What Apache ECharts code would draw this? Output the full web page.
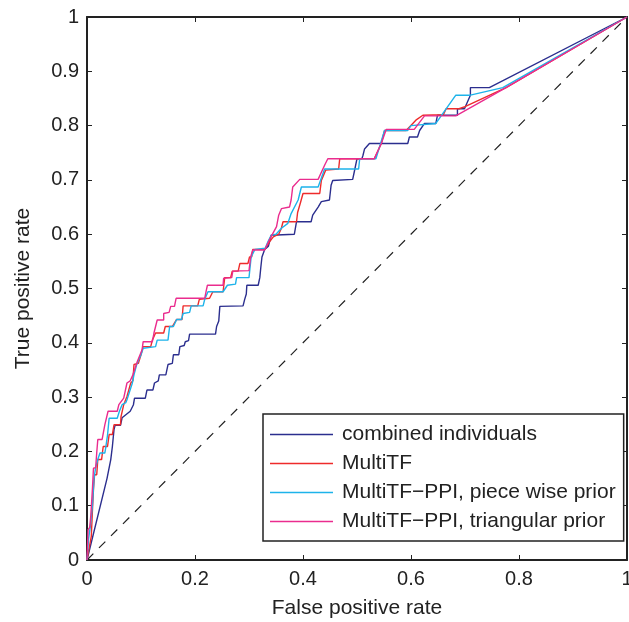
<!DOCTYPE html>
<html>
<head>
<meta charset="utf-8">
<script src="https://cdn.jsdelivr.net/npm/echarts@6/dist/echarts.min.js"></script>
<style>
  html, body { margin: 0; padding: 0; background: #fff; }
  #chart { width: 629px; height: 622px; }
</style>
</head>
<body>
<div id="chart"></div>
<script>
// ROC curves, [false positive rate, true positive rate]
const seriesNames = ['combined individuals', 'MultiTF', 'MultiTF\u2212PPI, piece wise prior', 'MultiTF\u2212PPI, triangular prior'];
const xTicks = [0, 0.2, 0.4, 0.6, 0.8, 1];
const yTicks = [0, 0.1, 0.2, 0.3, 0.4, 0.5, 0.6, 0.7, 0.8, 0.9, 1];

const rocCombined = [
  [0, 0], [0.037, 0.15], [0.044, 0.185], [0.047, 0.209], [0.05, 0.24], [0.052, 0.248], [0.062, 0.248],
  [0.065, 0.262], [0.08, 0.274], [0.086, 0.286], [0.088, 0.298], [0.108, 0.298], [0.111, 0.313],
  [0.122, 0.313], [0.125, 0.326], [0.132, 0.33], [0.134, 0.341], [0.146, 0.341], [0.15, 0.36],
  [0.158, 0.362], [0.16, 0.378], [0.17, 0.378], [0.172, 0.393], [0.18, 0.395], [0.182, 0.402],
  [0.188, 0.404], [0.19, 0.416], [0.238, 0.416], [0.24, 0.43], [0.244, 0.44], [0.246, 0.467],
  [0.289, 0.468], [0.292, 0.48], [0.295, 0.49], [0.296, 0.506], [0.317, 0.506], [0.32, 0.52],
  [0.322, 0.54], [0.324, 0.558], [0.329, 0.572], [0.336, 0.578], [0.338, 0.586], [0.341, 0.598],
  [0.384, 0.6], [0.388, 0.623], [0.415, 0.623], [0.418, 0.635], [0.428, 0.65], [0.434, 0.66],
  [0.437, 0.663], [0.449, 0.663], [0.452, 0.69], [0.455, 0.699], [0.492, 0.701], [0.495, 0.715],
  [0.5, 0.739], [0.509, 0.739], [0.511, 0.745], [0.514, 0.757], [0.523, 0.767], [0.594, 0.767],
  [0.597, 0.779], [0.612, 0.779], [0.616, 0.791], [0.625, 0.804], [0.646, 0.804], [0.649, 0.819],
  [0.686, 0.819], [0.686, 0.831], [0.699, 0.831], [0.71, 0.856], [0.71, 0.87], [0.745, 0.87], [1, 1]
];

const rocMultiTF = [
  [0, 0], [0.008, 0.044], [0.01, 0.09], [0.012, 0.13], [0.014, 0.157], [0.018, 0.157], [0.02, 0.185],
  [0.027, 0.185], [0.03, 0.209], [0.038, 0.209], [0.041, 0.231], [0.047, 0.231], [0.05, 0.249],
  [0.062, 0.249], [0.063, 0.264], [0.068, 0.286], [0.074, 0.301], [0.081, 0.326], [0.085, 0.33],
  [0.087, 0.36], [0.095, 0.362], [0.1, 0.378], [0.104, 0.393], [0.118, 0.393], [0.121, 0.405],
  [0.127, 0.418], [0.142, 0.418], [0.145, 0.43], [0.158, 0.43], [0.166, 0.443], [0.176, 0.443],
  [0.178, 0.468], [0.205, 0.468], [0.208, 0.48], [0.227, 0.482], [0.233, 0.494], [0.252, 0.494],
  [0.255, 0.52], [0.266, 0.52], [0.269, 0.532], [0.28, 0.532], [0.283, 0.546], [0.298, 0.546],
  [0.301, 0.558], [0.305, 0.558], [0.307, 0.572], [0.329, 0.572], [0.338, 0.586], [0.345, 0.595],
  [0.355, 0.6], [0.36, 0.611], [0.363, 0.623], [0.388, 0.623], [0.39, 0.64], [0.395, 0.657],
  [0.4, 0.675], [0.431, 0.675], [0.434, 0.699], [0.442, 0.718], [0.466, 0.72], [0.468, 0.739],
  [0.532, 0.739], [0.545, 0.767], [0.551, 0.791], [0.591, 0.791], [0.609, 0.81], [0.622, 0.819],
  [0.66, 0.82], [0.665, 0.831], [0.689, 0.831], [0.7, 0.835], [0.776, 0.87], [1, 1]
];

const rocPiecewise = [
  [0, 0], [0.003, 0.04], [0.006, 0.06], [0.01, 0.1], [0.013, 0.15], [0.016, 0.17], [0.02, 0.185],
  [0.024, 0.197], [0.033, 0.197], [0.035, 0.209], [0.038, 0.23], [0.041, 0.261], [0.056, 0.261],
  [0.06, 0.274], [0.065, 0.286], [0.072, 0.29], [0.074, 0.295], [0.084, 0.326], [0.087, 0.341],
  [0.092, 0.36], [0.1, 0.378], [0.104, 0.39], [0.127, 0.393], [0.13, 0.405], [0.15, 0.405],
  [0.153, 0.43], [0.16, 0.43], [0.166, 0.443], [0.175, 0.443], [0.178, 0.454], [0.19, 0.456],
  [0.193, 0.468], [0.215, 0.468], [0.218, 0.48], [0.224, 0.494], [0.252, 0.494], [0.26, 0.506],
  [0.275, 0.508], [0.277, 0.52], [0.3, 0.52], [0.304, 0.558], [0.311, 0.572], [0.33, 0.574],
  [0.335, 0.586], [0.341, 0.598], [0.35, 0.6], [0.36, 0.611], [0.372, 0.62], [0.378, 0.638],
  [0.391, 0.663], [0.397, 0.687], [0.428, 0.687], [0.44, 0.72], [0.503, 0.72], [0.505, 0.739],
  [0.535, 0.739], [0.551, 0.791], [0.594, 0.791], [0.6, 0.8], [0.646, 0.804], [0.683, 0.856],
  [0.71, 0.856], [0.77, 0.87], [1, 1]
];

const rocTriangular = [
  [0, 0], [0.002, 0.056], [0.005, 0.06], [0.007, 0.081], [0.01, 0.13], [0.012, 0.169], [0.016, 0.17],
  [0.018, 0.197], [0.02, 0.222], [0.028, 0.222], [0.033, 0.249], [0.039, 0.274], [0.056, 0.274],
  [0.059, 0.286], [0.068, 0.298], [0.074, 0.326], [0.08, 0.33], [0.085, 0.341], [0.093, 0.365],
  [0.102, 0.387], [0.104, 0.402], [0.121, 0.402], [0.124, 0.418], [0.13, 0.442], [0.142, 0.442],
  [0.142, 0.454], [0.152, 0.456], [0.155, 0.467], [0.162, 0.467], [0.165, 0.482], [0.218, 0.482],
  [0.221, 0.497], [0.223, 0.506], [0.252, 0.506], [0.253, 0.519], [0.268, 0.52], [0.27, 0.532],
  [0.3, 0.533], [0.303, 0.558], [0.307, 0.571], [0.329, 0.571], [0.338, 0.59], [0.351, 0.614],
  [0.355, 0.635], [0.36, 0.647], [0.375, 0.65], [0.378, 0.663], [0.381, 0.687], [0.394, 0.701],
  [0.428, 0.701], [0.44, 0.727], [0.446, 0.739], [0.532, 0.739], [0.545, 0.767], [0.554, 0.793],
  [0.606, 0.793], [0.625, 0.818], [0.683, 0.818], [0.776, 0.87], [1, 1]
];

const chanceLine = [[0, 0], [1, 1]];

const colors = ['#2B2E8E', '#EE2B2B', '#1DB3EA', '#EA2C8E'];
const font = '"Liberation Sans", Arial, Helvetica, sans-serif';

const chart = echarts.init(document.getElementById('chart'));

const baseAxis = {
  type: 'value',
  min: 0,
  max: 1,
  axisLine: { show: true, onZero: false, lineStyle: { color: '#222', width: 2 } },
  axisTick: { show: true, inside: true, length: 5, lineStyle: { color: '#222', width: 1 } },
  splitLine: { show: false }
};

function tickText(list) {
  return v => {
    const r = Math.round(v * 10) / 10;
    return list.includes(r) ? String(r) : '';
  };
}

function curve(name, data, color) {
  return {
    name: name,
    type: 'line',
    data: data,
    symbol: 'none',
    lineStyle: { color: color, width: 1.4 },
    itemStyle: { color: color },
    animation: false
  };
}

chart.setOption({
  backgroundColor: '#fff',
  textStyle: { fontFamily: font },
  grid: { left: 87, right: 2, top: 17, bottom: 62, outerBoundsMode: 'none', containLabel: false },
  xAxis: [
    Object.assign({}, baseAxis, {
      position: 'bottom',
      interval: 0.2,
      name: 'False positive rate',
      nameLocation: 'middle',
      nameGap: 38,
      nameTextStyle: { fontSize: 21, color: '#222', fontFamily: font },
      axisLabel: { fontSize: 20, color: '#222', margin: 9, fontFamily: font, formatter: tickText(xTicks) }
    }),
    Object.assign({}, baseAxis, { position: 'top', interval: 0.2, axisLabel: { show: false } })
  ],
  yAxis: [
    Object.assign({}, baseAxis, {
      position: 'left',
      interval: 0.1,
      name: 'True positive rate',
      nameLocation: 'middle',
      nameGap: 53,
      nameTextStyle: { fontSize: 21, color: '#222', fontFamily: font },
      axisLabel: { fontSize: 20, color: '#222', margin: 8, fontFamily: font, formatter: tickText(yTicks) }
    }),
    Object.assign({}, baseAxis, { position: 'right', interval: 0.1, axisLabel: { show: false } })
  ],
  legend: {
    data: seriesNames,
    orient: 'vertical',
    left: 263,
    top: 414,
    icon: 'rect',
    itemWidth: 63,
    itemHeight: 1.6,
    itemGap: 8,
    padding: [10, 8, 9, 7],
    backgroundColor: '#fff',
    borderColor: '#222',
    borderWidth: 1.5,
    borderRadius: 0,
    selectedMode: false,
    textStyle: { fontSize: 21, color: '#222', lineHeight: 21, fontFamily: font, padding: [0, 0, 0, 4] }
  },
  series: [
    {
      name: 'chance',
      type: 'line',
      data: chanceLine,
      symbol: 'none',
      lineStyle: { color: '#222', width: 1.2, type: [9, 8] },
      animation: false
    },
    curve(seriesNames[0], rocCombined, colors[0]),
    curve(seriesNames[1], rocMultiTF, colors[1]),
    curve(seriesNames[2], rocPiecewise, colors[2]),
    curve(seriesNames[3], rocTriangular, colors[3])
  ]
});
</script>
</body>
</html>
